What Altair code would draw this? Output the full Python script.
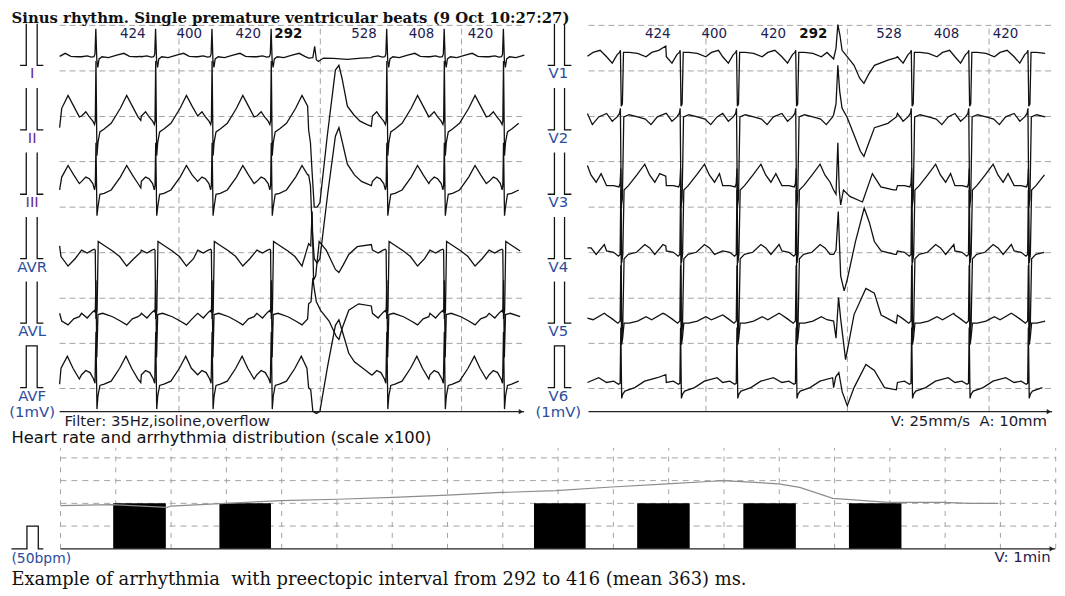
import altair as alt
import pandas as pd

SANS = "DejaVu Sans"
SERIF = "DejaVu Serif"
GRID = "#a3a3a3"
LIMB_COLOR = "#6a2c8c"
BLUE_COLOR = "#2b4c9c"
RR_COLOR = "#1c2050"

# ---------------- texts ----------------
TITLE = "Sinus rhythm. Single premature ventricular beats (9 Oct 10:27:27)"
FILTER_NOTE = "Filter: 35Hz,isoline,overflow"
SPEED_NOTE = "V: 25mm/s\u00a0\u00a0A: 10mm"
ONE_MV = "(1mV)"
HR_TITLE = "Heart rate and arrhythmia distribution (scale x100)"
HR_CAL = "(50bpm)"
HR_SPEED = "V: 1min"
CAPTION = "Example of arrhythmia\u00a0 with preectopic interval from 292 to 416 (mean 363) ms."

# ---------------- rhythm ----------------
FIRST_R_MS = 256
LEAD_IN_RR_MS = 416
RR_MS = [424, 400, 420, 292, 528, 408, 420]
BEAT_KIND = ["N", "N", "N", "N", "V", "N", "N", "N"]

LIMB_LEADS = ["I", "II", "III", "AVR", "AVL", "AVF"]
CHEST_LEADS = ["V1", "V2", "V3", "V4", "V5", "V6"]
LIMB_LABEL_COLORS = [LIMB_COLOR, LIMB_COLOR, LIMB_COLOR, BLUE_COLOR, BLUE_COLOR, BLUE_COLOR]
CHEST_LABEL_COLORS = [BLUE_COLOR] * 6
LEAD_OFFSET_MV = [7.5, 6.0, 4.5, 3.0, 1.5, 0.0]
LIMB_START_MV = [0.21, 0.05, 0.10, 0.30, 0.23, 0.08]
CHEST_START_MV = [0.21, 0.38, 0.67, 0.25, 0.12, 0.12]
CAL_MV = 0.97

# beat shapes: (ms from R, mV above lead baseline)
I_N = [(-100, 0.2), (-60, 0.22), (-30, 0.19), (-12, 0.2), (-5, 0.26), (1, 0.85), (8, 0.12), (15, -0.05),
       (24, 0.15), (45, 0.2), (90, 0.18), (150, 0.24), (200, 0.28), (240, 0.21), (290, 0.2), (320, 0.21)]
I_V = [(-25, 0.17), (5, 0.18), (18, 0.44), (30, 0.13), (45, 0.09), (80, 0.17), (150, 0.16), (250, 0.14),
       (350, 0.17), (420, 0.18)]
II_N = [(-100, 0.32), (-70, 0.42), (-45, 0.3), (-20, 0.2), (-8, 0.12), (-3, 0.2), (2, 1.6), (9, -0.6),
        (16, -0.3), (30, -0.05), (60, 0.02), (110, 0.15), (175, 0.5), (220, 0.8), (260, 0.55), (300, 0.3),
        (320, 0.22)]
II_V = [(-25, 0.0), (-12, -0.3), (0, -1.0), (15, -1.8), (35, -1.8), (55, -1.7), (107, -0.15), (165, 1.39),
        (190, 1.5), (212, 1.2), (250, 0.55), (295, 0.35), (340, 0.2), (390, 0.12), (420, 0.08)]
III_N = [(-100, 0.3), (-70, 0.4), (-45, 0.36), (-20, 0.25), (-8, 0.1), (-3, 0.2), (2, 1.2), (9, -0.5),
         (16, -0.3), (30, 0.0), (60, 0.02), (110, 0.1), (175, 0.4), (220, 0.67), (260, 0.45), (300, 0.25),
         (320, 0.15)]
III_V = [(-25, 0.45), (-12, 0.2), (0, -0.8), (15, -1.5), (35, -1.6), (55, -1.5), (110, 0.0), (165, 1.35),
         (190, 1.55), (215, 1.2), (250, 0.7), (300, 0.45), (350, 0.3), (420, 0.2)]
AVR_N = [(-100, 0.2), (-60, 0.13), (-25, 0.2), (-8, 0.22), (-3, 0.2), (2, -1.4), (10, -1.2), (18, 0.4),
         (50, 0.33), (120, 0.18), (170, 0.05), (220, -0.17), (270, 0.0), (320, 0.15)]
AVR_V = [(-25, 0.35), (-10, 0.3), (0, 1.1), (10, -0.5), (25, -0.4), (50, 0.4), (100, 0.2), (165, -0.25),
         (190, -0.32), (220, -0.15), (260, 0.1), (320, 0.28), (420, 0.33)]
AVL_N = [(-100, 0.23), (-60, 0.12), (-25, 0.25), (-8, 0.3), (-3, 0.25), (2, 1.0), (8, -0.8), (16, 0.2),
         (50, 0.23), (120, 0.15), (175, 0.05), (220, -0.04), (260, 0.1), (300, 0.15), (320, 0.2)]
AVL_V = [(-25, 0.45), (-8, 0.5), (5, 1.05), (15, 0.8), (30, 0.5), (60, 0.3), (120, 0.05), (170, -0.3),
         (190, -0.38), (215, -0.1), (260, 0.3), (330, 0.45), (420, 0.4)]
AVF_N = [(-100, 0.3), (-70, 0.4), (-40, 0.35), (-15, 0.2), (-5, 0.1), (2, 1.3), (9, -0.5), (16, -0.2),
         (30, 0.05), (60, 0.08), (110, 0.15), (170, 0.45), (215, 0.73), (255, 0.45), (300, 0.2), (320, 0.12)]
AVF_V = [(-25, 0.0), (-10, -0.05), (5, -0.55), (30, -0.6), (55, -0.55), (110, 0.5), (165, 1.45), (190, 1.58),
         (215, 1.3), (260, 0.8), (300, 0.6), (360, 0.45), (420, 0.3)]

V1_N = [(-100, 0.2), (-60, 0.05), (-25, 0.25), (-8, 0.3), (-2, 0.35), (4, -0.95), (12, -0.9), (20, 0.3),
        (60, 0.3), (120, 0.28), (180, 0.2), (220, 0.3), (270, 0.35), (320, 0.45)]
V1_V = [(-25, 0.15), (-8, 0.4), (5, 0.95), (20, 0.7), (35, 0.35), (60, 0.25), (120, 0.0), (160, -0.3),
        (190, -0.42), (225, -0.2), (265, 0.0), (360, 0.12), (420, 0.18)]
V2_N = [(-100, 0.38), (-60, 0.2), (-25, 0.3), (-8, 0.38), (-2, 0.5), (4, -1.8), (12, -1.6), (22, 0.3),
        (60, 0.35), (120, 0.3), (175, 0.25), (215, 0.12), (260, 0.3), (320, 0.38)]
V2_V = [(-25, 0.35), (-8, 0.6), (5, 1.5), (18, 0.9), (35, 0.5), (70, 0.3), (130, -0.2), (165, -0.5),
        (190, -0.62), (225, -0.3), (265, 0.05), (360, 0.15), (420, 0.3)]
V3_N = [(-100, 0.2), (-50, 0.2), (-12, 0.17), (-4, 0.25), (1, 0.6), (7, -1.6), (15, -1.4), (24, 0.1),
        (55, 0.2), (115, 0.45), (171, 0.7), (205, 0.45), (242, 0.28), (277, 0.48), (320, 0.42)]
V3_V = [(-25, 0.1), (-8, 0.0), (5, 1.2), (15, 0.1), (25, -0.25), (45, 0.1), (90, -0.05), (180, -0.18),
        (250, 0.48), (310, 0.17), (400, 0.1), (420, 0.1)]
V4_N = [(-100, 0.18), (-50, 0.15), (-16, 0.06), (-4, 0.1), (1, 1.6), (7, -1.9), (15, -1.5), (24, 0.0),
        (54, 0.1), (113, 0.15), (171, 0.33), (206, 0.25), (242, 0.1), (300, 0.33), (320, 0.3)]
V4_V = [(-25, 0.1), (-8, 0.2), (8, 1.1), (25, -0.4), (50, -0.75), (72, -0.48), (130, 0.4), (192, 1.18),
        (228, 0.85), (264, 0.4), (312, 0.18), (410, 0.1), (420, 0.1)]
V5_N = [(-100, 0.19), (-60, 0.1), (-20, 0.0), (-4, 0.05), (1, 1.35), (7, -0.5), (14, -0.35), (24, 0.0),
        (60, 0.0), (120, 0.05), (180, 0.15), (220, 0.08), (300, 0.23), (320, 0.2)]
V5_V = [(-25, 0.05), (-8, -0.35), (10, 0.6), (25, 0.1), (60, -0.85), (120, 0.2), (204, 0.81), (264, 0.7),
        (312, 0.19), (420, 0.0)]
V6_N = [(-100, 0.12), (-50, 0.15), (-15, 0.08), (-4, 0.1), (1, 1.4), (7, -0.25), (15, -0.15), (30, -0.08),
        (100, 0.0), (170, 0.15), (260, 0.23), (320, 0.3)]
V6_V = [(-25, 0.0), (-10, 0.25), (12, 0.35), (36, -0.1), (72, -0.42), (120, 0.0), (204, 0.54), (264, 0.4),
        (336, 0.0), (420, -0.05)]

LIMB_SHAPES = [(I_N, I_V), (II_N, II_V), (III_N, III_V), (AVR_N, AVR_V), (AVL_N, AVL_V), (AVF_N, AVF_V)]
CHEST_SHAPES = [(V1_N, V1_V), (V2_N, V2_V), (V3_N, V3_V), (V4_N, V4_V), (V5_N, V5_V), (V6_N, V6_V)]

ECG_GRID_MV = [-0.02, 1.03, 2.08, 3.14, 4.20, 5.26, 6.31, 7.37, 8.43]

# ---------------- heart-rate trend ----------------
HR_MIN = [0.0, 0.94, 1.93, 1.99, 2.98, 4.0, 5.02, 6.01, 7.0, 7.98, 8.96, 9.97, 10.97, 11.72, 11.98,
          12.99, 13.37, 13.97, 14.97, 15.96, 16.44, 16.96]
HR_BPM = [95, 97, 91, 94, 100, 106, 109, 113, 118, 124, 128, 136, 143, 148, 150,
          143, 135, 111, 102, 102, 100, 100]
BAR_START_MIN = [0.953, 2.874, 8.564, 10.43, 12.35, 14.26]
BAR_END_MIN = [1.905, 3.807, 9.498, 11.38, 13.30, 15.21]
BAR_BPM = [100, 100, 100, 100, 100, 100]
HR_GRID_BPM = [50, 100, 150, 200]
HR_GRID_MIN = list(range(0, 19))

# ---------------- layout (scale units) ----------------
Y_DOM = [-0.963, 8.783]
AXIS_MV = -0.56
GRID_TOP_MV = 8.43
RR_LABEL_MV = 8.229
TITLE_MV = 8.612
LABEL_DY = -0.185
ONE_MV_MV = -0.577
NOTE_MV = -0.771

LEFT = dict(x_dom=[-345.1, 3331.0], width=522, trace=[0, 3310], grid_h=[0, 3310],
            grid_v=[847, 1850, 2852], axis=[0, 3296], cal=[-280.3, -236.6, -159.2, -115.5],
            label_t=-195.0, note=(FILTER_NOTE, 35.2, "left"))
RIGHT = dict(x_dom=[-394.4, 3345.1], width=531, trace=[20, 3310], grid_h=[28, 3317],
             grid_v=[861, 1865, 2870], axis=[28, 3317], cal=[-262.0, -214.1, -142.3, -93.7],
             label_t=-186.6, note=(SPEED_NOTE, 3281.7, "right"))

beat_times = [FIRST_R_MS]
for rr in RR_MS:
    beat_times.append(beat_times[-1] + rr)


def trace_frame(leads, shapes, start_mv, t_lo, t_hi):
    events = [(FIRST_R_MS - LEAD_IN_RR_MS, "N")] + list(zip(beat_times, BEAT_KIND))
    rows = []
    for li, lead in enumerate(leads):
        normal, pvc = shapes[li]
        off = LEAD_OFFSET_MV[li]
        rows.append(dict(lead=lead, t=t_lo, v=off + start_mv[li], i=0))
        order, last_t = 1, t_lo
        for k, (T, kind) in enumerate(events):
            tpl = normal if kind == "N" else pvc
            if k + 1 < len(events):
                nT, nkind = events[k + 1]
                limit = nT + (normal if nkind == "N" else pvc)[0][0]
            else:
                limit = float("inf")
            for dt, mv in tpl:
                t = T + dt
                if t <= last_t or t > t_hi or t >= limit:
                    continue
                rows.append(dict(lead=lead, t=t, v=off + mv, i=order))
                order += 1
                last_t = t
    return pd.DataFrame(rows)


def cal_frame(leads, cal):
    rows = []
    c0, c1, c2, c3 = cal
    for li, lead in enumerate(leads):
        b = LEAD_OFFSET_MV[li]
        top = b + CAL_MV
        if li == len(leads) - 1:
            segs = [[(c0, b), (c1, b), (c1, top), (c2, top), (c2, b), (c3, b)]]
        else:
            segs = [[(c0, b), (c1, b), (c1, top)], [(c2, top), (c2, b), (c3, b)]]
        for si, seg in enumerate(segs):
            for i, (t, v) in enumerate(seg):
                rows.append(dict(key=f"{lead}-{si}", t=t, v=v, i=i))
    return pd.DataFrame(rows)


def ecg_panel(leads, shapes, start_mv, label_colors, P, with_title):
    xs = alt.Scale(domain=P["x_dom"], nice=False, zero=False)
    ys = alt.Scale(domain=Y_DOM, nice=False, zero=False)

    def ex(f):
        return alt.X(f, type="quantitative", scale=xs, axis=None)

    def ey(f):
        return alt.Y(f, type="quantitative", scale=ys, axis=None)

    layers = []
    gh = pd.DataFrame({"v": ECG_GRID_MV, "t": P["grid_h"][0], "t2": P["grid_h"][1]})
    layers.append(alt.Chart(gh).mark_rule(color=GRID, strokeDash=[6, 4], strokeWidth=1)
                  .encode(x=ex("t"), x2=alt.X2("t2"), y=ey("v")))
    gv = pd.DataFrame({"t": P["grid_v"], "v": AXIS_MV, "v2": GRID_TOP_MV})
    layers.append(alt.Chart(gv).mark_rule(color=GRID, strokeDash=[6, 4], strokeWidth=1)
                  .encode(x=ex("t"), y=ey("v"), y2=alt.Y2("v2")))
    ax = pd.DataFrame({"t": [P["axis"][0]], "t2": [P["axis"][1]], "v": [AXIS_MV]})
    layers.append(alt.Chart(ax).mark_rule(color="#222", strokeWidth=1.3)
                  .encode(x=ex("t"), x2=alt.X2("t2"), y=ey("v")))
    ar = pd.DataFrame({"t": [P["axis"][1] - 22], "v": [AXIS_MV]})
    layers.append(alt.Chart(ar).mark_point(shape="triangle-right", filled=True, size=28, color="#222", opacity=1)
                  .encode(x=ex("t"), y=ey("v")))

    tr = trace_frame(leads, shapes, start_mv, P["trace"][0], P["trace"][1])
    layers.append(alt.Chart(tr).mark_line(color="#111", strokeWidth=1.3)
                  .encode(x=ex("t"), y=ey("v"), detail="lead:N", order="i:Q"))

    cf = cal_frame(leads, P["cal"])
    layers.append(alt.Chart(cf).mark_line(color="#111", strokeWidth=1.3)
                  .encode(x=ex("t"), y=ey("v"), detail="key:N", order="i:Q"))

    lab = pd.DataFrame({"label": leads + [ONE_MV],
                        "t": P["label_t"],
                        "v": [o + LABEL_DY for o in LEAD_OFFSET_MV] + [ONE_MV_MV],
                        "c": label_colors + [BLUE_COLOR]})
    layers.append(alt.Chart(lab).mark_text(font=SANS, fontSize=15, align="center", baseline="middle")
                  .encode(x=ex("t"), y=ey("v"), text="label:N",
                          color=alt.Color("c:N", scale=None, legend=None)))

    rr = pd.DataFrame({"label": [str(r) for r in RR_MS],
                       "t": [beat_times[k + 1] - 70 for k in range(len(RR_MS))],
                       "v": RR_LABEL_MV,
                       "bold": [BEAT_KIND[k + 1] == "V" for k in range(len(RR_MS))]})
    layers.append(alt.Chart(rr[~rr["bold"]]).mark_text(font=SANS, fontSize=13.5, color=RR_COLOR, align="right",
                                                         baseline="middle")
                  .encode(x=ex("t"), y=ey("v"), text="label:N"))
    layers.append(alt.Chart(rr[rr["bold"]]).mark_text(font=SANS, fontSize=13.5, fontWeight="bold", color="#111",
                                                        align="right", baseline="middle")
                  .encode(x=ex("t"), y=ey("v"), text="label:N"))

    note_text, note_t, note_align = P["note"]
    nt = pd.DataFrame({"label": [note_text], "t": [note_t], "v": [NOTE_MV]})
    layers.append(alt.Chart(nt).mark_text(font=SANS, fontSize=15, color="#1a1a2a", align=note_align,
                                          baseline="middle")
                  .encode(x=ex("t"), y=ey("v"), text="label:N"))

    if with_title:
        tt = pd.DataFrame({"label": [TITLE], "t": [-341.5], "v": [TITLE_MV]})
        layers.append(alt.Chart(tt).mark_text(font=SERIF, fontSize=15, fontWeight="bold", color="#111",
                                              align="left", baseline="middle")
                      .encode(x=ex("t"), y=ey("v"), text="label:N"))

    return alt.layer(*layers).properties(width=P["width"], height=422)


def hr_panel():
    xs = alt.Scale(domain=[-0.8957, 18.0054], nice=False, zero=False)
    ys = alt.Scale(domain=[-81.44, 254.8], nice=False, zero=False)

    def ex(f):
        return alt.X(f, type="quantitative", scale=xs, axis=None)

    def ey(f):
        return alt.Y(f, type="quantitative", scale=ys, axis=None)

    layers = []
    gh = pd.DataFrame({"y": HR_GRID_BPM, "x": 0, "x2": 18})
    layers.append(alt.Chart(gh).mark_rule(color=GRID, strokeDash=[6, 5], strokeWidth=1)
                  .encode(x=ex("x"), x2=alt.X2("x2"), y=ey("y")))
    gv = pd.DataFrame({"x": HR_GRID_MIN, "y": 0, "y2": 222})
    layers.append(alt.Chart(gv).mark_rule(color=GRID, strokeDash=[5, 6], strokeWidth=1)
                  .encode(x=ex("x"), y=ey("y"), y2=alt.Y2("y2")))
    bars = pd.DataFrame({"a": BAR_START_MIN, "b": BAR_END_MIN, "y0": 0, "y1": BAR_BPM})
    layers.append(alt.Chart(bars).mark_rect(color="black")
                  .encode(x=ex("a"), x2=alt.X2("b"), y=ey("y0"), y2=alt.Y2("y1")))
    hr = pd.DataFrame({"x": HR_MIN, "y": HR_BPM})
    layers.append(alt.Chart(hr).mark_line(color="#8c8c8c", strokeWidth=1.2)
                  .encode(x=ex("x"), y=ey("y")))
    ax = pd.DataFrame({"x": [0], "x2": [17.99], "y": [0]})
    layers.append(alt.Chart(ax).mark_rule(color="#222", strokeWidth=1.3)
                  .encode(x=ex("x"), x2=alt.X2("x2"), y=ey("y")))
    ar = pd.DataFrame({"x": [17.93], "y": [0]})
    layers.append(alt.Chart(ar).mark_point(shape="triangle-right", filled=True, size=28, color="#222", opacity=1)
                  .encode(x=ex("x"), y=ey("y")))
    cal = pd.DataFrame({"x": [-0.887, -0.607, -0.607, -0.402, -0.402, -0.311],
                        "y": [0, 0, 50, 50, 0, 0], "i": list(range(6))})
    layers.append(alt.Chart(cal).mark_line(color="#111", strokeWidth=1.3)
                  .encode(x=ex("x"), y=ey("y"), order="i:Q"))

    texts = [
        (HR_TITLE, -0.887, 243.9, "left", SANS, 16.5, "#111"),
        (HR_CAL, -0.887, -21.8, "left", SANS, 14, BLUE_COLOR),
        (HR_SPEED, 17.909, -18.1, "right", SANS, 15, RR_COLOR),
        (CAPTION, -0.887, -68.3, "left", SERIF, 18, "#111"),
    ]
    for label, x, y, align, font, fs, col in texts:
        d = pd.DataFrame({"label": [label], "x": [x], "y": [y]})
        layers.append(alt.Chart(d).mark_text(font=font, fontSize=fs, color=col, align=align,
                                             baseline="middle")
                      .encode(x=ex("x"), y=ey("y"), text="label:N"))
    return alt.layer(*layers).properties(width=1053, height=154)


left = ecg_panel(LIMB_LEADS, LIMB_SHAPES, LIMB_START_MV, LIMB_LABEL_COLORS, LEFT, True)
right = ecg_panel(CHEST_LEADS, CHEST_SHAPES, CHEST_START_MV, CHEST_LABEL_COLORS, RIGHT, False)
top = alt.hconcat(left, right, spacing=0, bounds="flush")
chart = (alt.vconcat(top, hr_panel(), spacing=0)
         .properties(padding=0, background="white")
         .configure_view(strokeWidth=0))

chart.save("out.html", embed_options={"renderer": "svg", "actions": False})
